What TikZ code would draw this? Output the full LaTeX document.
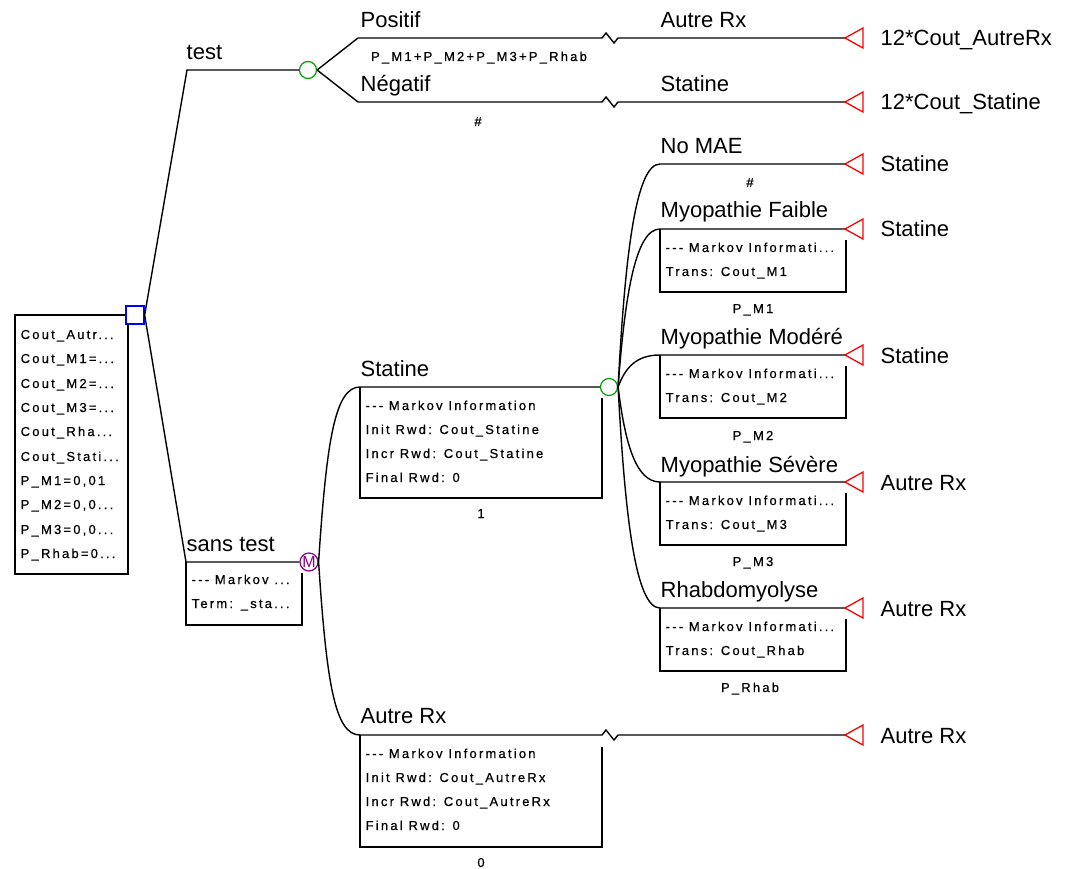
\documentclass[tikz,border=0pt]{standalone}
\usepackage{fontspec}
\setmainfont{Liberation Sans}
\newfontfamily\treesmall[LetterSpace=17,FakeBold=0.6]{Liberation Sans}
\newcommand\biglbl{\fontsize{22}{26}\selectfont}
\newcommand\smalltxt{\treesmall\fontsize{13}{24}\selectfont}
\definecolor{chgreen}{RGB}{0,160,0}
\definecolor{mkpurple}{RGB}{140,0,140}

\begin{document}
\begin{tikzpicture}[x=1pt, y=-1pt, line width=1.4pt,
    lbl/.style={anchor=base west, inner sep=0pt, font=\biglbl},
    sml/.style={anchor=base west, inner sep=0pt, font=\smalltxt},
    prob/.style={anchor=base, inner sep=0pt, font=\smalltxt},
    decision/.style={draw=blue, rectangle, minimum size=18pt, inner sep=0pt, line width=1.3pt},
    chance/.style={draw=chgreen, circle, minimum size=17pt, inner sep=0pt, line width=1.2pt},
    markov/.style={draw=mkpurple, text=mkpurple, circle, minimum size=18pt, inner sep=0pt,
      line width=1.2pt, font=\fontsize{16}{16}\selectfont},
    termtri/.style={draw=red, line width=1.3pt}]
    \useasboundingbox (0,0) rectangle (1066,869);

    % Decision node and variable box
    \node[decision] (dec) at (135,315) {};
    \draw (dec.west) -- (15,315) -- (15,574) -- (128,574) -- (128,324);
    \node[sml] (v1) at (20,339) {Cout\_Autr...};
    \node[sml] (v2) at (20,363) {Cout\_M1=...};
    \node[sml] (v3) at (20,388) {Cout\_M2=...};
    \node[sml] (v4) at (20,412) {Cout\_M3=...};
    \node[sml] (v5) at (20,436) {Cout\_Rha...};
    \node[sml] (v6) at (20,461) {Cout\_Stati...};
    \node[sml] (v7) at (20,485) {P\_M1=0,01};
    \node[sml] (v8) at (20,509) {P\_M2=0,0...};
    \node[sml] (v9) at (20,534) {P\_M3=0,0...};
    \node[sml] (v10) at (20,558) {P\_Rhab=0...};

    % Branch: test
    \coordinate (testL) at (187,70);
    \node[chance] (chT) at (308,70) {};
    \draw (dec.east) -- (testL) -- (chT);
    \node[lbl] (lTest) at (186,60) {test};

    % Branch: sans test (Markov node)
    \coordinate (sansL) at (186,562);
    \node[markov] (mk) at (309,562) {M};
    \draw (dec.east) -- (sansL) -- (mk);
    \draw (sansL) -- (186,625) -- (302,625) -- (302,573);
    \node[lbl] (lSans) at (186,551) {sans test};
    \node[sml] (mkA) at (191,584) {-{}-{}- Markov ...};
    \node[sml] (mkB) at (191,608) {Term: \_sta...};

    % Positif / Negatif
    \coordinate (posL) at (358,38);
    \coordinate (negL) at (358,102);
    \coordinate (tPos) at (845,38);
    \coordinate (tNeg) at (845,102);
    \draw (chT.east) -- (posL) -- (602,38) -- ++(4,-5) -- ++(8,10) -- ++(4,-5) -- (tPos);
    \draw (chT.east) -- (negL) -- (602,102) -- ++(4,-5) -- ++(8,10) -- ++(4,-5) -- (tNeg);
    \node[lbl] (lPos) at (360,28) {Positif};
    \node[lbl] (lNeg) at (360,92) {Négatif};
    \node[lbl] (lPosR) at (660,28) {Autre Rx};
    \node[lbl] (lNegR) at (660,92) {Statine};
    \node[prob] (pPos) at (479,61) {P\_M1+P\_M2+P\_M3+P\_Rhab};
    \node[prob] (pNeg) at (478,126) {\#};

    % Markov state: Statine
    \coordinate (statL) at (360,387);
    \node[chance] (chS) at (609,387) {};
    \draw (mk.east) .. controls +(8,-122) and +(-25,0) .. (statL) -- (chS);
    \draw (statL) -- (360,498) -- (602,498) -- (602,398);
    \node[lbl] (lStat) at (360,376) {Statine};
    \node[sml] (sA) at (365,410) {-{}-{}- Markov Information};
    \node[sml] (sB) at (365,434) {Init Rwd: Cout\_Statine};
    \node[sml] (sC) at (365,458) {Incr Rwd: Cout\_Statine};
    \node[sml] (sD) at (365,482) {Final Rwd: 0};
    \node[prob] (pStat) at (481,518) {1};

    % Markov state: Autre Rx
    \coordinate (autL) at (360,735);
    \coordinate (tAut) at (845,735);
    \draw (mk.east) .. controls +(8,122) and +(-25,0) .. (autL) -- (602,735) -- ++(4,-5) -- ++(8,10) -- ++(4,-5) -- (tAut);
    \draw (autL) -- (360,847) -- (602,847) -- (602,747);
    \node[lbl] (lAut) at (360,723) {Autre Rx};
    \node[sml] (aA) at (365,758) {-{}-{}- Markov Information};
    \node[sml] (aB) at (365,782) {Init Rwd: Cout\_AutreRx};
    \node[sml] (aC) at (365,806) {Incr Rwd: Cout\_AutreRx};
    \node[sml] (aD) at (365,830) {Final Rwd: 0};
    \node[prob] (pAut) at (481,867) {0};

    % Events under Statine
    \coordinate (noL) at (660,164);
    \coordinate (faiL) at (660,229);
    \coordinate (modL) at (660,355);
    \coordinate (sevL) at (660,482);
    \coordinate (rhaL) at (660,608);
    \coordinate (tNo) at (845,164);
    \coordinate (tFai) at (845,229);
    \coordinate (tMod) at (845,355);
    \coordinate (tSev) at (845,482);
    \coordinate (tRha) at (845,608);
    \foreach \b/\t/\dy in {noL/tNo/-134, faiL/tFai/-95, modL/tMod/-19, sevL/tSev/57, rhaL/tRha/133}
        \draw (chS.east) .. controls +(7,\dy) and +(-24,0) .. (\b) -- (\t);
    \foreach \b/\tr in {faiL/Cout\_M1, modL/Cout\_M2, sevL/Cout\_M3, rhaL/Cout\_Rhab} {
        \draw (\b) -- ++(0,63) -- ++(186,0) -- ++(0,-52);
        \node[sml] (info\b) at ([shift={(5,23)}]\b) {-{}-{}- Markov Informati...};
        \node[sml] (trans\b) at ([shift={(5,47)}]\b) {Trans: \tr};
    }
    \node[lbl] (lNo) at (660,154) {No MAE};
    \node[lbl] (lFai) at (660,218) {Myopathie Faible};
    \node[lbl] (lMod) at (660,344) {Myopathie Modéré};
    \node[lbl] (lSev) at (660,472) {Myopathie Sévère};
    \node[lbl] (lRha) at (660,597) {Rhabdomyolyse};
    \node[prob] (pNo) at (750,187) {\#};
    \node[prob] (pFai) at (753,313) {P\_M1};
    \node[prob] (pMod) at (753,440) {P\_M2};
    \node[prob] (pSev) at (753,566) {P\_M3};
    \node[prob] (pRha) at (750,692) {P\_Rhab};

    % Terminal nodes
    \foreach \t in {tPos, tNeg, tNo, tFai, tMod, tSev, tRha, tAut}
        \draw[termtri] (\t) -- ++(18,-10) -- ++(0,20) -- cycle;
    \node[lbl] (ePos) at (880,46) {12*Cout\_AutreRx};
    \node[lbl] (eNeg) at (880,110) {12*Cout\_Statine};
    \node[lbl] (eNo) at (880,172) {Statine};
    \node[lbl] (eFai) at (880,237) {Statine};
    \node[lbl] (eMod) at (880,363) {Statine};
    \node[lbl] (eSev) at (880,490) {Autre Rx};
    \node[lbl] (eRha) at (880,616) {Autre Rx};
    \node[lbl] (eAut) at (880,743) {Autre Rx};
\end{tikzpicture}
\end{document}
